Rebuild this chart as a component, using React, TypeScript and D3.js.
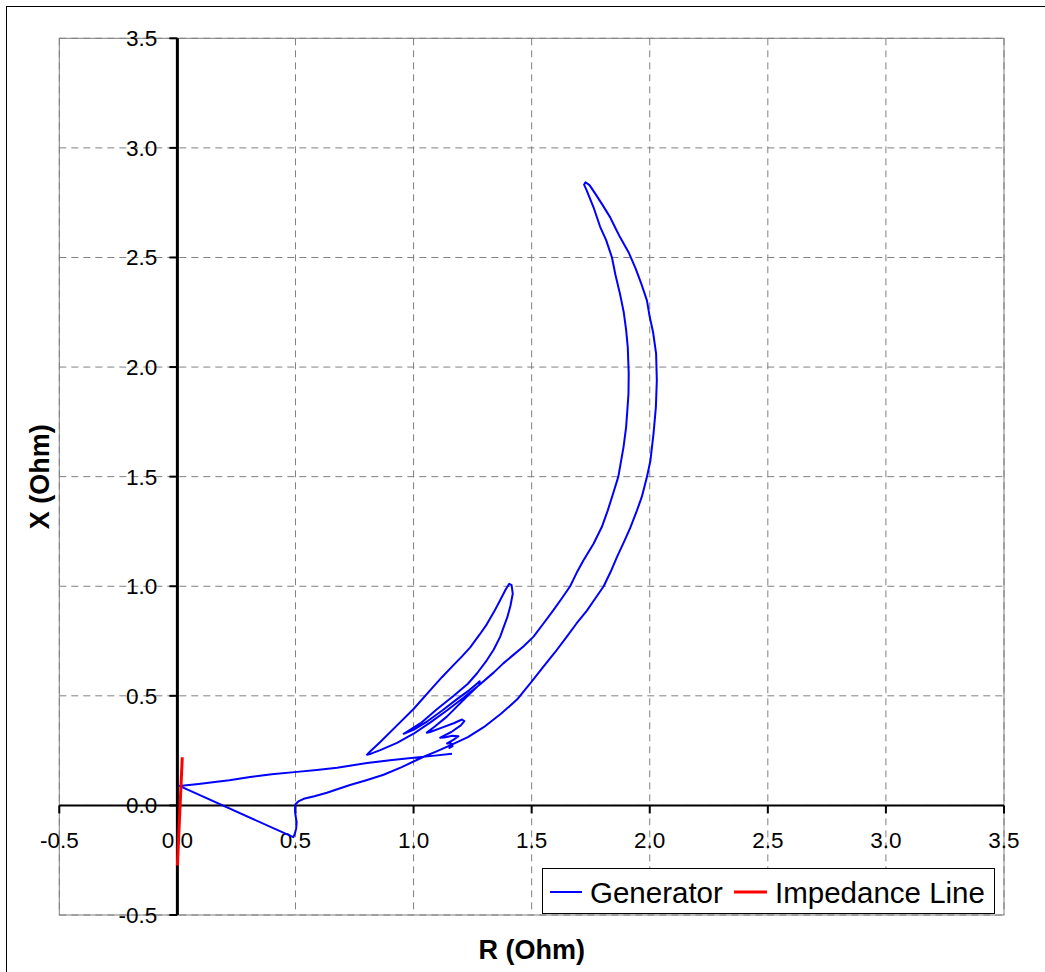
import React from "react";
import * as d3 from "d3";

const xTicks = [-0.5, 0, 0.5, 1, 1.5, 2, 2.5, 3, 3.5];
const yTicks = [-0.5, 0, 0.5, 1, 1.5, 2, 2.5, 3, 3.5];

const generatorR = [
  1.163, 1.08, 1.0, 0.9, 0.803, 0.676, 0.59, 0.506, 0.4, 0.308, 0.22, 0.167, 0.09, 0.008,
  0.491, 0.497, 0.503, 0.505, 0.5, 0.498, 0.5, 0.512, 0.535, 0.58, 0.633, 0.68, 0.731, 0.8,
  0.873, 0.95, 1.043, 1.1, 1.155, 1.23, 1.297, 1.37, 1.438, 1.5, 1.55, 1.6, 1.649, 1.69,
  1.734, 1.77, 1.805, 1.835, 1.861, 1.89, 1.917, 1.946, 1.967, 1.988, 2.003, 2.016, 2.026,
  2.03, 2.027, 2.014, 2.0, 1.988, 1.965, 1.94, 1.912, 1.874, 1.853, 1.832, 1.8, 1.77, 1.745,
  1.728, 1.722, 1.733, 1.75, 1.762, 1.79, 1.815, 1.84, 1.855, 1.874, 1.89, 1.9, 1.907, 1.911,
  1.91, 1.905, 1.9, 1.889, 1.867, 1.847, 1.822, 1.797, 1.762, 1.719, 1.69, 1.663, 1.628,
  1.593, 1.55, 1.508, 1.465, 1.424, 1.38, 1.34, 1.282, 1.21, 1.141, 1.07, 1.0, 0.93, 0.859,
  0.82, 0.803, 0.815, 0.859, 0.93, 1.0, 1.07, 1.12, 1.169, 1.205, 1.239, 1.28, 1.31, 1.34,
  1.366, 1.39, 1.405, 1.415, 1.42, 1.41, 1.397, 1.366, 1.339, 1.31, 1.269, 1.23, 1.17, 1.1,
  1.03, 0.958, 1.0, 1.06, 1.12, 1.184, 1.235, 1.268, 1.28, 1.278, 1.225, 1.141, 1.09, 1.056,
  1.07, 1.12, 1.17, 1.205, 1.215, 1.2, 1.16, 1.113, 1.13, 1.165, 1.19, 1.17, 1.142, 1.16,
  1.165, 1.152, 1.158,
];
const generatorX = [
  0.236, 0.226, 0.218, 0.206, 0.193, 0.172, 0.162, 0.153, 0.142, 0.13, 0.115, 0.108, 0.098, 0.089,
  -0.145, -0.13, -0.105, -0.075, -0.045, -0.015, 0.005, 0.018, 0.03, 0.042, 0.058, 0.075, 0.093, 0.115,
  0.14, 0.175, 0.222, 0.248, 0.274, 0.312, 0.357, 0.418, 0.483, 0.565, 0.633, 0.7, 0.77, 0.83,
  0.889, 0.945, 1.0, 1.067, 1.133, 1.2, 1.265, 1.346, 1.41, 1.498, 1.574, 1.696, 1.817,
  1.939, 2.061, 2.16, 2.228, 2.304, 2.378, 2.45, 2.52, 2.593, 2.638, 2.684, 2.74, 2.79, 2.83,
  2.843, 2.832, 2.806, 2.76, 2.729, 2.64, 2.58, 2.5, 2.42, 2.334, 2.25, 2.17, 2.09, 1.97,
  1.878, 1.8, 1.726, 1.635, 1.5, 1.43, 1.345, 1.27, 1.194, 1.117, 1.06, 1.0, 0.945,
  0.892, 0.83, 0.77, 0.725, 0.688, 0.648, 0.607, 0.553, 0.49, 0.433, 0.378, 0.327, 0.285, 0.252,
  0.236, 0.231, 0.245, 0.289, 0.365, 0.44, 0.525, 0.585, 0.64, 0.68, 0.72, 0.78, 0.826, 0.882,
  0.935, 0.985, 1.011, 1.005, 0.966, 0.91, 0.859, 0.768, 0.71, 0.662, 0.603, 0.555, 0.5, 0.44,
  0.375, 0.327, 0.345, 0.385, 0.432, 0.485, 0.525, 0.555, 0.566, 0.55, 0.496, 0.405, 0.36, 0.332,
  0.335, 0.355, 0.375, 0.392, 0.385, 0.365, 0.335, 0.309, 0.31, 0.318, 0.316, 0.3, 0.283, 0.283,
  0.27, 0.262, 0.27,
];

const impedanceR = [0.0, 0.0207];
const impedanceX = [-0.274, 0.22];

const legendLabels = ["Generator", "Impedance Line"];
const seriesColors = ["#0000FF", "#FF0000"];

const FONT = "'Liberation Sans', Arial, Helvetica, sans-serif";

export default function App() {
  const left = 59.3, right = 1004, top = 38.3, bottom = 915;
  const x = d3.scaleLinear().domain([-0.5, 3.5]).range([left, right]);
  const y = d3.scaleLinear().domain([-0.5, 3.5]).range([bottom, top]);

  const gen: [number, number][] = generatorR.map((r, i) => [r, generatorX[i]]);
  const imp: [number, number][] = impedanceR.map((r, i) => [r, impedanceX[i]]);
  const line = d3
    .line<[number, number]>()
    .x((d) => x(d[0]))
    .y((d) => y(d[1]));

  const x0 = x(0);
  const y0 = y(0);

  return (
    <svg
      width={1045}
      height={972}
      style={{ position: "absolute", left: 0, top: 0, background: "#fff" }}
      fontFamily={FONT}
    >
      <rect x={0} y={0} width={1045} height={972} fill="#fff" />
      <rect x={6.5} y={6.5} width={1200} height={1200} fill="none" stroke="#000" strokeWidth={1} />
      {/* grid */}
      {xTicks.map((t) => (
        <line
          key={"gx" + t}
          x1={x(t)}
          x2={x(t)}
          y1={top}
          y2={bottom}
          stroke="#808080"
          strokeWidth={1}
          strokeDasharray="7,5"
        />
      ))}
      {yTicks.map((t) => (
        <line
          key={"gy" + t}
          x1={left}
          x2={right}
          y1={y(t)}
          y2={y(t)}
          stroke="#808080"
          strokeWidth={1}
          strokeDasharray="7,5"
        />
      ))}
      <rect
        x={left}
        y={top}
        width={right - left}
        height={bottom - top}
        fill="none"
        stroke="#808080"
        strokeWidth={1}
      />
      {/* axes */}
      <line x1={left} x2={right} y1={y0} y2={y0} stroke="#000" strokeWidth={2} />
      {xTicks.map((t) => (
        <line key={"tx" + t} x1={x(t)} x2={x(t)} y1={y0} y2={y0 + 8} stroke="#000" strokeWidth={2} />
      ))}
      <line x1={x0} x2={x0} y1={top} y2={bottom} stroke="#000" strokeWidth={3} />
      {yTicks.map((t) => (
        <line key={"ty" + t} x1={x0 - 8} x2={x0} y1={y(t)} y2={y(t)} stroke="#000" strokeWidth={2} />
      ))}
      {/* tick labels */}
      {xTicks.map((t) => (
        <text key={"lx" + t} x={x(t)} y={y0 + 43} fontSize={22.5} textAnchor="middle" fill="#000">
          {t.toFixed(1)}
        </text>
      ))}
      {yTicks.map((t) => (
        <text key={"ly" + t} x={x0 - 20} y={y(t) + 8} fontSize={22.5} textAnchor="end" fill="#000">
          {t.toFixed(1)}
        </text>
      ))}
      {/* series */}
      <path d={line(gen) || ""} fill="none" stroke={seriesColors[0]} strokeWidth={2} strokeLinejoin="round" />
      <path d={line(imp) || ""} fill="none" stroke={seriesColors[1]} strokeWidth={3} />
      {/* axis titles */}
      <text x={(left + right) / 2} y={959} fontSize={27} fontWeight="bold" textAnchor="middle" fill="#000">
        R (Ohm)
      </text>
      <text
        transform={`translate(49,${(top + bottom) / 2}) rotate(-90)`}
        fontSize={27}
        fontWeight="bold"
        textAnchor="middle"
        fill="#000"
      >
        X (Ohm)
      </text>
      {/* legend */}
      <rect x={542.5} y={868.5} width={452} height={45} fill="#fff" stroke="#000" strokeWidth={1} />
      <line x1={550} x2={582} y1={892} y2={892} stroke={seriesColors[0]} strokeWidth={2} />
      <text x={590} y={903} fontSize={29.5} fill="#000">
        {legendLabels[0]}
      </text>
      <line x1={734} x2={767} y1={892} y2={892} stroke={seriesColors[1]} strokeWidth={3} />
      <text x={775} y={903} fontSize={29.5} fill="#000">
        {legendLabels[1]}
      </text>
    </svg>
  );
}
